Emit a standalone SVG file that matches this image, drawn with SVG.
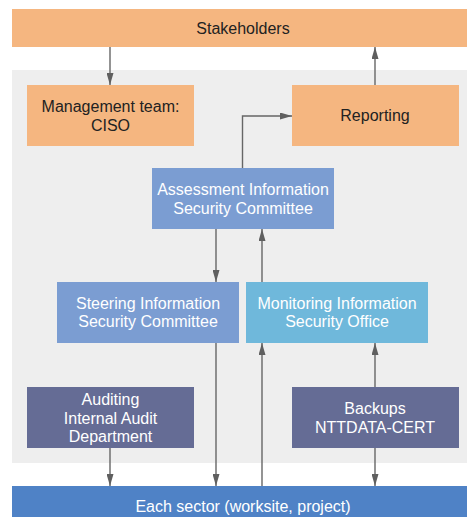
<svg xmlns="http://www.w3.org/2000/svg" width="467" height="517" viewBox="0 0 467 517">
<defs>
<marker id="ah" viewBox="0 0 12 7" refX="12" refY="3.5" markerWidth="12" markerHeight="7" markerUnits="userSpaceOnUse" orient="auto">
<path d="M0,0 L12,3.5 L0,7 Z" fill="#5f5f5f"/>
</marker>
<style>
text{font-family:"Liberation Sans",Arial,sans-serif;font-size:16px;text-anchor:middle}
.dk{fill:#222}
.wt{fill:#fff}
.c{stroke:#666;stroke-width:1.4;fill:none;marker-end:url(#ah)}
.or{fill:#F5B680}
.bl{fill:#7B9DD2}
.lb{fill:#6FB8DB}
.dp{fill:#656C95}
.sc{fill:#4F82C6}
</style>
</defs>
<rect x="12" y="70" width="455" height="393" fill="#EEEEEE"/>
<g id="stakeholders"><rect class="or" x="12" y="9" width="455" height="38"/><text class="dk" x="243" y="33.5">Stakeholders</text></g>
<g id="management"><rect class="or" x="27" y="85" width="167" height="61"/><text class="dk" x="110.5" y="112">Management team:</text><text class="dk" x="110.5" y="130.5">CISO</text></g>
<g id="reporting"><rect class="or" x="292" y="85" width="167" height="61"/><text class="dk" x="375" y="121">Reporting</text></g>
<g id="assessment"><rect class="bl" x="152" y="168" width="182" height="61"/><text class="wt" x="243" y="195">Assessment Information</text><text class="wt" x="243" y="214">Security Committee</text></g>
<g id="steering"><rect class="bl" x="57" y="282" width="182" height="61"/><text class="wt" x="148" y="308.5">Steering Information</text><text class="wt" x="148" y="327">Security Committee</text></g>
<g id="monitoring"><rect class="lb" x="246" y="282" width="182" height="61"/><text class="wt" x="337" y="308.5">Monitoring Information</text><text class="wt" x="337" y="327">Security Office</text></g>
<g id="auditing"><rect class="dp" x="27" y="387" width="167" height="61"/><text class="wt" x="110.5" y="405">Auditing</text><text class="wt" x="110.5" y="423.5">Internal Audit</text><text class="wt" x="110.5" y="442">Department</text></g>
<g id="backups"><rect class="dp" x="292" y="387" width="167" height="61"/><text class="wt" x="375" y="414">Backups</text><text class="wt" x="375" y="432.5">NTTDATA-CERT</text></g>
<g id="sector"><rect class="sc" x="12" y="486" width="455" height="31"/><text class="wt" x="243" y="511.5">Each sector (worksite, project)</text></g>
<g id="connectors">
<path class="c" d="M110,47 V85"/>
<path class="c" d="M375,85 V47"/>
<path class="c" d="M242.5,168 V116 H292"/>
<path class="c" d="M216,229 V282"/>
<path class="c" d="M262,282 V229"/>
<path class="c" d="M110,448 V486"/>
<path class="c" d="M216,343 V486"/>
<path class="c" d="M262,486 V343"/>
<path class="c" d="M375,387 V343"/>
<path class="c" d="M375,448 V486"/>
</g>
</svg>
